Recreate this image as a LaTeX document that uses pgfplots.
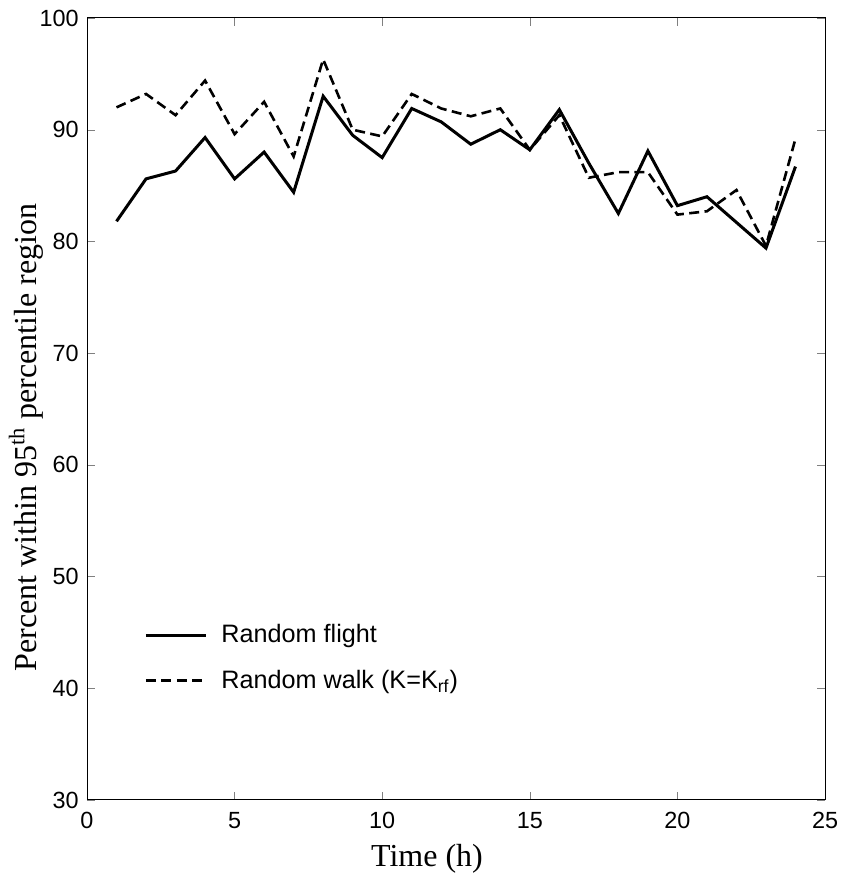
\documentclass[border=0pt]{standalone}
\usepackage{pgfplots}
\pgfplotsset{compat=1.18}
\usepackage{fontspec}
\setmainfont{Liberation Serif}
\newfontfamily\helv{Liberation Sans}
\begin{document}
\begin{tikzpicture}
\begin{axis}[
  width=369pt, height=391pt, scale only axis,
  xmin=0, xmax=25, ymin=30, ymax=100,
  xtick={0,5,...,25}, ytick={30,40,...,100},
  tick align=inside, major tick length=4pt,
  xtick pos=both, ytick pos=both,
  tick label style={font=\helv\fontsize{11.7}{13}\selectfont},
  xticklabel style={yshift=-2.6pt},
  yticklabel style={xshift=-0.6pt},
  /pgf/number format/assume math mode=true,
  axis line style={line width=0.5pt},
  xlabel={\fontsize{16}{18}\selectfont Time (h)},
  ylabel={\fontsize{16}{18}\selectfont Percent within 95\textsuperscript{th} percentile region},
  xlabel style={at={(axis description cs:0.4607,-0.0852)}, anchor=base, inner sep=0pt},
  ylabel style={at={(axis description cs:-0.0678,0.4636)}, anchor=base, inner sep=0pt},
  legend style={draw=none, fill=none, at={(axis cs:1.73,46.45)}, anchor=north west,
    font=\helv\fontsize{12.6}{14}\selectfont, row sep=8pt, column sep=5pt},
  legend cell align=left,
  legend image code/.code={\draw[#1] (0cm,0cm) -- (30pt,0cm);},
]
\addplot[black, line width=1.5pt] coordinates {
(1,81.8) (2,85.6) (3,86.3) (4,89.3) (5,85.6) (6,88.0) (7,84.4) (8,93.0)
(9,89.5) (10,87.5) (11,91.9) (12,90.7) (13,88.7) (14,90.0) (15,88.2) (16,91.8)
(17,87.0) (18,82.5) (19,88.1) (20,83.2) (21,84.0) (22,81.7) (23,79.4) (24,86.7)
};
\addlegendentry{Random flight}
\addplot[black, line width=1.3pt, dash pattern=on 5pt off 2.7pt] coordinates {
(1,92.0) (2,93.2) (3,91.3) (4,94.4) (5,89.6) (6,92.5) (7,87.6) (8,96.3)
(9,90.0) (10,89.4) (11,93.2) (12,91.9) (13,91.2) (14,91.9) (15,88.2) (16,91.3)
(17,85.7) (18,86.2) (19,86.2) (20,82.4) (21,82.7) (22,84.6) (23,79.6) (24,89.2)
};
\addlegendentry{Random walk (K=K\textsubscript{rf})}
\end{axis}
\path (current axis.south west) ++(-43.5pt,-37.5pt) coordinate (a);
\path (current axis.north east) ++(12pt,9pt) coordinate (b);
\path (a) rectangle (b);
\end{tikzpicture}
\end{document}
